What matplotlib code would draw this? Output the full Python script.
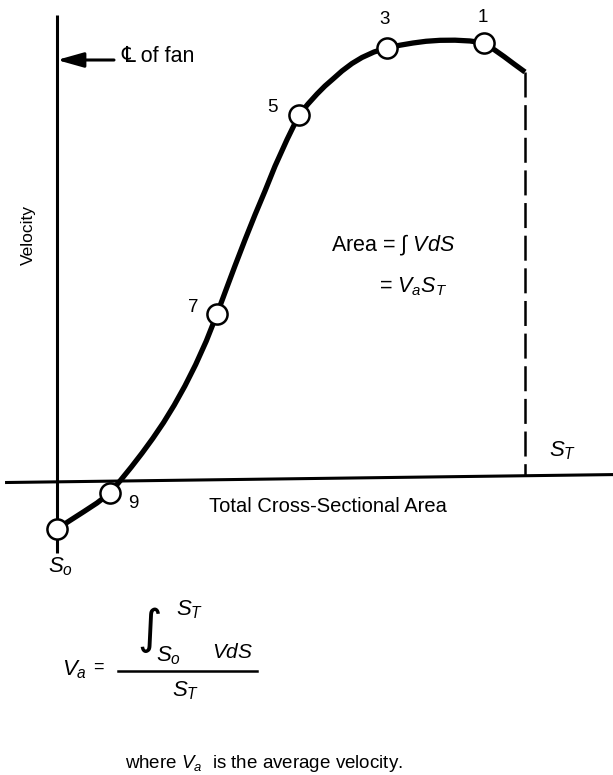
import matplotlib
matplotlib.use("Agg")
import matplotlib.pyplot as plt

plt.rcParams['font.family'] = ['Liberation Sans', 'DejaVu Sans']
plt.rcParams['mathtext.fontset'] = 'custom'
plt.rcParams['mathtext.rm'] = 'Liberation Sans'
plt.rcParams['mathtext.it'] = 'Liberation Sans:italic'
plt.rcParams['mathtext.bf'] = 'Liberation Sans:bold'
plt.rcParams['lines.scale_dashes'] = False

# ---- data (S in % of total area S_T, V in % of peak velocity) ----
curve_s = [0.0, 2.78, 5.77, 8.55, 11.32, 13.61, 15.90, 18.18, 20.47, 22.76,
           25.04, 27.33, 29.62, 31.90, 34.19, 36.11, 38.03, 40.17, 42.31,
           44.44, 46.58, 49.15, 51.71, 53.63, 55.56, 57.26, 58.97, 60.90,
           63.03, 65.17, 67.74, 70.51, 73.29, 76.07, 78.85, 81.84, 85.04,
           88.25, 91.24, 93.38, 95.51, 97.65, 100.0]
curve_v = [-11.36, -9.43, -7.39, -5.45, -3.18, -0.25, 2.75, 5.89, 9.23, 12.82,
           16.77, 21.14, 25.98, 31.36, 37.50, 43.00, 48.45, 54.36, 60.05,
           65.45, 71.09, 77.14, 82.73, 85.23, 87.50, 89.32, 90.91, 92.73,
           94.43, 95.80, 97.05, 97.95, 98.59, 99.09, 99.48, 99.70, 99.73,
           99.55, 99.09, 97.61, 96.02, 94.32, 92.50]
point_labels = ['9', '7', '5', '3', '1']
point_s = [0.0, 11.32, 34.19, 51.71, 70.51, 91.24]
point_v = [-11.36, -3.18, 37.50, 82.73, 97.95, 99.09]
end_s = 100.0
end_v = 92.5

W, H = 613, 775
fig = plt.figure(figsize=(W / 100, H / 100), dpi=100)
ax = fig.add_axes([0, 0, 1, 1])
ax.axis('off')
ax.set_xlim((0 - 57) / 4.68, (W - 57) / 4.68)
ax.set_ylim((479 - H) / 4.40, 479 / 4.40)


def P(px, py):
    return px / W, 1 - py / H


# axes lines (the scanned baseline is slightly tilted)
ax.plot([0, 0], [105.5, -16.8], color='black', lw=2.2, solid_capstyle='butt', zorder=2)
ax.plot([-11.1, 120], [-0.8, 1.02], color='black', lw=2.2, solid_capstyle='butt', zorder=2)

# dashed line at S_T
ax.plot([end_s, end_s], [end_v, 0.8], color='black', lw=1.8,
        dashes=(18, 5.5), zorder=2)

# velocity curve
ax.plot(curve_s, curve_v, color='black', lw=3.8, solid_capstyle='butt',
        solid_joinstyle='round', zorder=3)
ax.plot(point_s, point_v, linestyle='none', marker='o', ms=14.5, mfc='white',
        mec='black', mew=1.8, zorder=4)

# point labels
label_pos = [(133, 504), (193, 307), (272, 107), (385, 19), (483, 17)]
for lab, (px, py) in zip(point_labels, label_pos):
    fig.text(*P(px, py), lab, fontsize=13.5, ha='center', va='center')

# axis labels
fig.text(*P(28, 235), 'Velocity', rotation=90, fontsize=12.5, ha='center', va='center')
fig.text(*P(328, 506), 'Total Cross-Sectional Area', fontsize=14.5, ha='center', va='center')
fig.text(*P(60, 567), r'$S_o$', fontsize=16, ha='center', va='center')
fig.text(*P(563, 451), r'$S_T$', fontsize=16, ha='center', va='center')

# centerline arrow
ax.annotate('', xy=P(57, 60), xytext=P(114, 60), xycoords='figure fraction',
            textcoords='figure fraction',
            arrowprops=dict(arrowstyle='-|>,head_length=1.6,head_width=0.45',
                            color='black', lw=2.2, shrinkA=0, shrinkB=0))
fig.text(*P(121, 57), '\u2104 of fan', fontsize=15.5, ha='left', va='center')

# area annotation
fig.text(*P(331, 245), r'Area = $\int$ $VdS$', fontsize=15.5, ha='left', va='center')
fig.text(*P(379, 287), r'= $V_aS_T$', fontsize=15.5, ha='left', va='center')

# formula
fig.text(*P(62, 670), r'$V_a$', fontsize=16, ha='left', va='center')
fig.text(*P(98, 667), '=', fontsize=13, ha='center', va='center')
fig.add_artist(plt.Line2D([118 / W, 257 / W], [1 - 671 / H, 1 - 671 / H],
                          color='black', lw=1.8))
fig.text(*P(150, 630), '\u222b', fontsize=34, family='DejaVu Sans',
         ha='center', va='center', style='italic')
fig.text(*P(190, 610), r'$S_T$', fontsize=16, ha='center', va='center')
fig.text(*P(168, 656), r'$S_o$', fontsize=16, ha='center', va='center')
fig.text(*P(233, 653), r'$VdS$', fontsize=15, ha='center', va='center')
fig.text(*P(186, 691), r'$S_T$', fontsize=16, ha='center', va='center')

fig.text(*P(125, 763), r'where $V_a$  is the average velocity.', fontsize=13.5,
         ha='left', va='center')

fig.savefig('out.png', dpi=100)
